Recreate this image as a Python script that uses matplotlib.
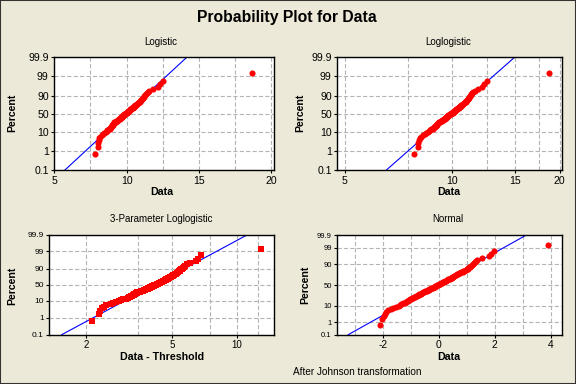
import math
import numpy as np
import matplotlib
matplotlib.use("Agg")
import matplotlib.pyplot as plt
from matplotlib.patches import Rectangle
from matplotlib.ticker import NullFormatter, NullLocator

plt.rcParams['font.family'] = ['Liberation Sans', 'DejaVu Sans']
plt.rcParams['lines.scale_dashes'] = False

data = [7.83, 8.00, 8.03, 8.08, 8.12, 8.18, 8.30, 8.38, 8.45, 8.55,
        8.62, 8.68, 8.75, 8.82, 8.86, 8.90, 8.93, 8.96, 8.99, 9.02,
        9.05, 9.07, 9.09, 9.11, 9.13, 9.16, 9.20, 9.25, 9.30, 9.34,
        9.38, 9.41, 9.44, 9.47, 9.50, 9.53, 9.56, 9.59, 9.62, 9.65,
        9.67, 9.69, 9.72, 9.74, 9.76, 9.79, 9.82, 9.85, 9.88, 9.91,
        9.94, 9.97, 10.00, 10.03, 10.05, 10.08, 10.11, 10.13, 10.16, 10.19,
        10.21, 10.24, 10.27, 10.30, 10.33, 10.36, 10.39, 10.42, 10.45, 10.48,
        10.51, 10.54, 10.57, 10.60, 10.63, 10.66, 10.70, 10.74, 10.78, 10.82,
        10.86, 10.90, 10.94, 10.98, 11.02, 11.06, 11.10, 11.14, 11.18, 11.22,
        11.27, 11.32, 11.38, 11.45, 11.55, 11.80, 12.15, 12.30, 12.50, 18.70]

# same sample after the Johnson transformation
johnson = [-2.11, -2.01, -1.97, -1.93, -1.88, -1.81, -1.72, -1.63, -1.52, -1.42,
           -1.38, -1.33, -1.27, -1.21, -1.16, -1.12, -1.08, -1.05, -1.02, -1.00,
           -0.97, -0.93, -0.89, -0.85, -0.81, -0.78, -0.75, -0.72, -0.69, -0.65,
           -0.61, -0.58, -0.55, -0.52, -0.49, -0.46, -0.42, -0.39, -0.36, -0.33,
           -0.30, -0.27, -0.24, -0.21, -0.18, -0.15, -0.13, -0.11, -0.09, -0.06,
           -0.03, 0.00, 0.03, 0.06, 0.08, 0.11, 0.14, 0.17, 0.20, 0.22,
           0.25, 0.28, 0.31, 0.34, 0.37, 0.40, 0.43, 0.46, 0.48, 0.50,
           0.53, 0.56, 0.60, 0.63, 0.66, 0.70, 0.74, 0.77, 0.81, 0.85,
           0.88, 0.92, 0.96, 1.00, 1.03, 1.06, 1.09, 1.13, 1.16, 1.19,
           1.22, 1.25, 1.28, 1.33, 1.37, 1.56, 1.80, 1.88, 1.98, 3.90]

threshold = 5.7

# fitted distributions: (location, scale)
logistic_fit = (9.95, 0.61)
loglogistic_fit = (2.292, 0.0598)
loglogistic3_fit = (1.4255, 0.1438)
normal_fit = (-0.06, 1.026)

pct_ticks = [0.1, 1, 10, 50, 90, 99, 99.9]
pct_labels = ['0.1', '1', '10', '50', '90', '99', '99.9']
line_pct = np.array([0.1, 99.9])

# median rank plotting positions
n = len(data)
ranks = np.arange(1, n + 1)
percent = (ranks - 0.3) / (n + 0.4) * 100


def logit_fwd(p):
    p = np.clip(np.asarray(p, float), 1e-6, 100 - 1e-6) / 100
    return np.log(p / (1 - p))


def logit_inv(z):
    return 100 / (1 + np.exp(-np.asarray(z, float)))


_z = np.linspace(-7, 7, 4001)
_cdf = 100 * 0.5 * (1 + np.vectorize(math.erf)(_z / math.sqrt(2)))


def probit_fwd(p):
    return np.interp(np.asarray(p, float), _cdf, _z)


def probit_inv(z):
    return np.interp(np.asarray(z, float), _z, _cdf)


bg = '#ECE9D8'
grid_kw = dict(color='#B4B4B4', lw=0.8, linestyle=(0, (3, 1.6)))

fig = plt.figure(figsize=(5.76, 3.84), dpi=100, facecolor=bg)


def setup(ax, fwd, inv, xticks, xlabels, xgrid, ysize, xsize):
    ax.set_facecolor('white')
    ax.set_yscale('function', functions=(fwd, inv))
    ax.set_ylim(0.1, 99.9)
    ax.set_yticks(pct_ticks, pct_labels)
    ax.yaxis.set_minor_locator(NullLocator())
    ax.set_xticks(xticks, xlabels)
    ax.set_xticks(xgrid, minor=True)
    ax.xaxis.set_minor_formatter(NullFormatter())
    ax.tick_params(which='major', length=2.5, width=0.8, pad=1.5, colors='black')
    ax.tick_params(axis='y', labelsize=ysize)
    ax.tick_params(axis='x', labelsize=xsize)
    ax.tick_params(which='minor', length=0)
    ax.grid(True, which='both', **grid_kw)
    ax.set_axisbelow(True)
    for s in ax.spines.values():
        s.set_linewidth(1.0)


# Logistic
ax1 = fig.add_axes([54.3 / 576, 1 - 170 / 384, 219.7 / 576, 112.7 / 384])
setup(ax1, logit_fwd, logit_inv, [5, 10, 15, 20], ['5', '10', '15', '20'],
      [7.5, 12.5, 17.5], 7.6, 7.6)
ax1.set_xlim(5, 20.2)
mu, s = logistic_fit
ax1.plot(mu + s * logit_fwd(line_pct), line_pct, color='blue', lw=0.8)
ax1.plot(data, percent, 'o', color='red', ms=4.4, mew=0)

# Loglogistic
ax2 = fig.add_axes([337.3 / 576, 1 - 170 / 384, 224.7 / 576, 112.7 / 384])
ax2.set_xscale('log')
setup(ax2, logit_fwd, logit_inv, [5, 10, 15, 20], ['5', '10', '15', '20'],
      [7.5, 12.5, 17.5], 7.6, 7.6)
ax2.set_xlim(4.77, 20.3)
mu, s = loglogistic_fit
ax2.plot(np.exp(mu + s * logit_fwd(line_pct)), line_pct, color='blue', lw=0.8)
ax2.plot(data, percent, 'o', color='red', ms=4.4, mew=0)

# 3-Parameter Loglogistic
ax3 = fig.add_axes([49.3 / 576, 1 - 334.7 / 384, 224.7 / 576, 100 / 384])
ax3.set_xscale('log')
setup(ax3, logit_fwd, logit_inv, [2, 5, 10], ['2', '5', '10'],
      [3.5, 7.5, 12.5], 6.0, 7.0)
ax3.set_xlim(1.35, 14.9)
mu, s = loglogistic3_fit
ax3.plot(np.exp(mu + s * logit_fwd(line_pct)), line_pct, color='blue', lw=0.8)
ax3.plot(np.array(data) - threshold, percent, 's', color='red', ms=3.8, mew=0)

# Normal (after Johnson transformation)
ax4 = fig.add_axes([337.3 / 576, 1 - 334.7 / 384, 224.7 / 576, 99.4 / 384])
setup(ax4, probit_fwd, probit_inv, [-2, 0, 2, 4], ['-2', '0', '2', '4'],
      [-3, -1, 1, 3], 5.5, 7.4)
ax4.set_xlim(-3.62, 4.4)
mu, s = normal_fit
ax4.plot(mu + s * probit_fwd(line_pct), line_pct, color='blue', lw=0.8)
ax4.plot(johnson, percent, 'o', color='red', ms=4.4, mew=0)

# texts
fig.text(286.5 / 576, 1 - 17.3 / 384, 'Probability Plot for Data',
         ha='center', va='center', fontsize=11.3, fontweight='bold')
for x, y, t in [(160.5, 41.7, 'Logistic'), (447.7, 41.7, 'Loglogistic'),
                (160.8, 218.7, '3-Parameter Loglogistic'), (447.7, 218.7, 'Normal')]:
    fig.text(x / 576, 1 - y / 384, t, ha='center', va='center', fontsize=7)
for x, y in [(12.7, 113), (300.5, 113), (12.5, 286), (305.5, 285)]:
    fig.text(x / 576, 1 - y / 384, 'Percent', rotation=90, ha='center',
             va='center', fontsize=7.6, fontweight='bold')
for x, y, t in [(162, 192, 'Data'), (448.5, 192, 'Data'),
                (162, 357, 'Data - Threshold'), (449, 357, 'Data')]:
    fig.text(x / 576, 1 - y / 384, t, ha='center', va='center',
             fontsize=7.7, fontweight='bold')
fig.text(293.3 / 576, 1 - 372.3 / 384, 'After Johnson transformation',
         ha='left', va='center', fontsize=7.2)

fig.patches.append(Rectangle((0, 0), 1, 1, transform=fig.transFigure,
                             fill=False, edgecolor='#333333', lw=1.5))

fig.savefig('out.png', dpi=100, facecolor=bg)
